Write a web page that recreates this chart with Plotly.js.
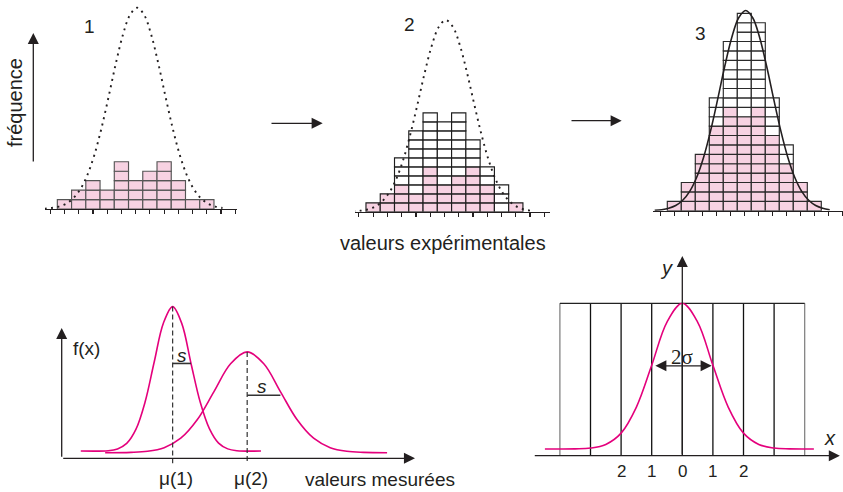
<!DOCTYPE html>
<html>
<head>
<meta charset="utf-8">
<script src="https://cdn.plot.ly/plotly-3.0.1.min.js"></script>
<style>html,body{margin:0;padding:0;background:#fff}#chart{width:843px;height:492px}</style>
</head>
<body>
<div id="chart"></div>
<script>
// ---------- DATA ----------
const binIndex = [0,1,2,3,4,5,6,7,8,9,10];
const counts1 = [1,2,3,2,5,3,4,5,3,1,1];
const pink1   = [1,2,3,2,5,3,4,5,3,1,1];
const counts2 = [1,2,6,9,11,10,11,8,5,3,1];
const pink2   = [1,2,3,2,5,3,4,5,3,0,1];
const counts3 = [1,3,6,12,18,21,20,12,7,3,1];
const pink3   = [1,3,6,9,11,10,11,8,5,3,1];
const binTicks = [-1,0,1,2,3,4,5,6,7,8,9,10,11,12];

// theoretical distribution, in bin units
const curveX = [-1.4,-0.9,-0.4,0.1,0.6,1.1,1.6,2.1,2.6,3.1,3.6,4.1,4.6,5.1,5.6,6.1,6.6,7.1,7.6,8.1,8.6,9.1,9.6,10.1,10.6,11.1];
const curveY = [0.04,0.11,0.26,0.55,1.11,2.06,3.56,5.72,8.55,11.87,15.34,18.40,20.53,21.3,20.53,18.40,15.34,11.87,8.55,5.72,3.56,2.06,1.11,0.55,0.26,0.11];

// bottom-left: two measured distributions
const curve1X = [0.54,1.32,1.58,1.84,2.10,2.36,2.62,2.88,3.14,3.40,3.66,3.92,4.18,4.44,4.70,4.96,5.64];
const curve1Y = [0.48,0.50,0.62,0.98,1.90,3.70,6.35,8.90,9.98,8.86,6.24,3.70,1.95,1.00,0.62,0.50,0.48];
const curve2X = [1.23,1.96,2.43,2.90,3.37,3.84,4.31,4.78,5.25,5.72,6.19,6.66,7.13,7.60,8.07,8.54,9.21];
const curve2Y = [0.37,0.39,0.46,0.70,1.32,2.55,4.39,6.22,7.00,6.22,4.39,2.55,1.32,0.70,0.46,0.39,0.37];
const muValues = [3.14, 5.25];
const muPeaks = [9.98, 7.00];
const sigmaValues = [0.52, 0.94];
const sLevels = [6.24, 4.15];
const muLabels = ['\u03bc(1)', '\u03bc(2)'];

// bottom-right: normal curve in sigma units
const gaussX = [-4.49,-4,-3.5,-3,-2.5,-2,-1.5,-1,-0.5,0,0.5,1,1.5,2,2.5,3,3.5,4,4.30];
const gaussY = [0.044,0.044,0.045,0.050,0.074,0.148,0.319,0.593,0.877,1.0,0.877,0.593,0.319,0.148,0.074,0.050,0.045,0.044,0.044];
const gridPositions = [-4,-3,-2,-1,0,1,2,3,4];
const gridTop = 1;
const sigmaTickVals = [-2,-1,0,1,2];
const sigmaTickText = ['2','1','0','1','2'];

// ---------- STYLE / LAYOUT HELPERS ----------
const W = 843, H = 492;
const INK = '#231f20', PINK_FILL = '#f7d2e2', MAGENTA = '#e4007c';
const SANS = 'Liberation Sans, Arial, sans-serif';
function xa(pxL, pxR, px0, scale) {
  return {domain:[pxL/W, pxR/W], range:[(pxL-px0)/scale, (pxR-px0)/scale]};
}
function ya(pxB, pxT, py0, scale) {
  return {domain:[1-pxB/H, 1-pxT/H], range:[(py0-pxB)/scale, (py0-pxT)/scale]};
}
function P(x, y) { return {x: x/W, y: 1-y/H, xref:'paper', yref:'paper'}; }

function cellTrace(counts, pinks, lineColor, xr, yr) {
  const x=[], y=[], base=[], col=[];
  binIndex.forEach((b,i) => {
    for (let k=0;k<counts[i];k++) {
      x.push(b); y.push(1); base.push(k);
      col.push(k < pinks[i] ? PINK_FILL : '#ffffff');
    }
  });
  return {type:'bar', x, y, base, width:1, xaxis:xr, yaxis:yr,
    marker:{color:col, line:{color:lineColor, width:1.15}}, hoverinfo:'skip'};
}

const traces = [];
traces.push(cellTrace(counts1, pink1, '#555555', 'x', 'y'));
traces.push(cellTrace(counts2, pink2, '#1e1e1e', 'x2', 'y2'));
traces.push(cellTrace(counts3, pink3, '#2a2a2a', 'x3', 'y3'));
const DOT = {color:INK, width:1.9, dash:'2px,4.5px', shape:'spline'};
traces.push({type:'scatter', mode:'lines', x:curveX, y:curveY, xaxis:'x', yaxis:'y', line:DOT});
traces.push({type:'scatter', mode:'lines', x:curveX, y:curveY, xaxis:'x2', yaxis:'y2', line:DOT});
traces.push({type:'scatter', mode:'lines', x:curveX, y:curveY, xaxis:'x3', yaxis:'y3',
  line:{color:INK, width:1.6, shape:'spline'}});

// bottom-left
traces.push({type:'scatter', mode:'lines', x:curve1X, y:curve1Y, xaxis:'x4', yaxis:'y4',
  line:{color:MAGENTA, width:1.6, shape:'spline'}});
traces.push({type:'scatter', mode:'lines', x:curve2X, y:curve2Y, xaxis:'x4', yaxis:'y4',
  line:{color:MAGENTA, width:1.6, shape:'spline'}});
muValues.forEach((m,i) => {
  traces.push({type:'scatter', mode:'lines', x:[m,m], y:[muPeaks[i], -0.33], xaxis:'x4', yaxis:'y4',
    line:{color:'#333333', width:1.2, dash:'5px,3px'}});
  traces.push({type:'scatter', mode:'lines', x:[m, m+sigmaValues[i]], y:[sLevels[i], sLevels[i]], xaxis:'x4', yaxis:'y4',
    line:{color:'#333333', width:1.6}});
});

// bottom-right grid
const gx=[], gy=[], ox=[], oy=[];
gridPositions.forEach(g => {
  const outer = (g === gridPositions[0] || g === gridPositions[gridPositions.length-1]);
  (outer?ox:gx).push(g, g, null); (outer?oy:gy).push(0, gridTop, null);
});
traces.push({type:'scatter', mode:'lines', x:ox, y:oy, xaxis:'x5', yaxis:'y5', line:{color:'#7a7a7a', width:1.2}});
traces.push({type:'scatter', mode:'lines', x:gx, y:gy, xaxis:'x5', yaxis:'y5', line:{color:'#111111', width:1.3}});
traces.push({type:'scatter', mode:'lines', x:[gridPositions[0], gridPositions[gridPositions.length-1]], y:[gridTop, gridTop],
  xaxis:'x5', yaxis:'y5', line:{color:'#222222', width:1.2}});
traces.push({type:'scatter', mode:'lines', x:gaussX, y:gaussY, xaxis:'x5', yaxis:'y5',
  line:{color:MAGENTA, width:1.6, shape:'spline'}});

const hidden = {showgrid:false, zeroline:false, showticklabels:false, ticks:'', showline:false, fixedrange:true};
function histX(a) {
  return Object.assign({}, a, {showgrid:false, zeroline:false, showticklabels:false, showline:true,
    linecolor:INK, linewidth:1.3, ticks:'outside', ticklen:4, tickwidth:1.2, tickcolor:INK,
    tickmode:'array', tickvals:binTicks, fixedrange:true});
}

const ann = [];
function txt(x, y, text, size, opts) {
  ann.push(Object.assign(P(x,y), {text, showarrow:false, xanchor:'center', yanchor:'middle',
    font:{family:SANS, size, color:INK}}, opts||{}));
}
function arrowPx(tipX, tipY, tailX, tailY) {
  ann.push(Object.assign(P(tipX,tipY), {text:'', showarrow:true, ax:tailX-tipX, ay:tailY-tipY,
    arrowhead:2, arrowsize:1.7, arrowwidth:1.3, arrowcolor:INK, standoff:0}));
}
function arrowData(xr, yr, x, y, axv, ayv, side) {
  ann.push({xref:xr, yref:yr, axref:xr, ayref:yr, x, y, ax:axv, ay:ayv, text:'', showarrow:true,
    arrowhead:2, arrowsize:1.7, arrowwidth:1.3, arrowcolor:INK, standoff:0, startstandoff:0,
    arrowside: side || 'end'});
}

txt(15, 103, 'fréquence', 20, {textangle:-90});
arrowPx(33.3, 33, 33.3, 163);
txt(89.5, 26.5, '1', 19);
txt(409, 25, '2', 19);
txt(700, 33, '3', 19);
arrowPx(322.7, 123.3, 270, 123.3);
arrowPx(621.7, 120.7, 570, 120.7);
txt(443, 243, 'valeurs expérimentales', 20);

// bottom-left labels and axes
arrowData('x4','y4', 0, 8.57, 0, 0);
arrowData('x4','y4', 10, 0, 0, 0);
txt(86.7, 348, 'f(x)', 19);
muLabels.forEach((t,i) => ann.push({xref:'x4', yref:'paper', x:muValues[i]+0.1, y:1-478/H, text:t,
  showarrow:false, xanchor:'center', yanchor:'middle', font:{family:SANS, size:19, color:INK}}));
txt(380, 479, 'valeurs mesurées', 19);
txt(181.7, 355, '<i>s</i>', 19);
txt(262, 386.7, '<i>s</i>', 19);

// bottom-right
arrowData('x5','y5', 5.15, 0, -4.87, 0);
arrowData('x5','y5', 0, 1.31, 0, 0);
arrowData('x5','y5', 0.96, 0.59, -0.93, 0.59, 'end+start');
txt(682, 357, '2\u03c3', 21, {font:{family:'Liberation Serif, Times New Roman, serif', size:21, color:INK}});
txt(666.7, 268, '<i>y</i>', 20);
txt(830, 438, '<i>x</i>', 20);
sigmaTickVals.forEach((v,i) => ann.push({xref:'x5', yref:'paper', x:v, y:1-471.7/H, text:sigmaTickText[i],
  showarrow:false, xanchor:'center', yanchor:'middle', font:{family:SANS, size:17, color:INK}}));

const layout = {
  width:W, height:H, margin:{l:0,r:0,t:0,b:0}, showlegend:false,
  paper_bgcolor:'#ffffff', plot_bgcolor:'rgba(0,0,0,0)', barmode:'overlay', bargap:0,
  xaxis:  histX(xa(45, 237.3, 64.45, 14.24)),
  yaxis:  Object.assign({}, hidden, ya(209, 0, 209, 9.45), {anchor:'x'}),
  xaxis2: Object.assign(histX(xa(355, 550, 373.1, 14.27)), {anchor:'y2'}),
  yaxis2: Object.assign({}, hidden, ya(211.8, 0, 211.8, 9.0), {anchor:'x2'}),
  xaxis3: Object.assign(histX(xa(653.3, 842.7, 674.3, 14.0)), {anchor:'y3'}),
  yaxis3: Object.assign({}, hidden, ya(210.7, 0, 210.7, 9.4), {anchor:'x3'}),
  xaxis4: Object.assign({}, hidden, xa(40, 470, 61.7, 35.33), {anchor:'y4'}),
  yaxis4: Object.assign({}, hidden, ya(492, 280, 458.3, 15.2), {anchor:'x4'}),
  xaxis5: Object.assign({}, hidden, xa(530, 843, 682.3, 30.6), {anchor:'y5'}),
  yaxis5: Object.assign({}, hidden, ya(492, 250, 455.7, 152.4), {anchor:'x5'}),
  annotations: ann
};
Plotly.newPlot('chart', traces, layout, {staticPlot:true, displayModeBar:false});
</script>
</body>
</html>
